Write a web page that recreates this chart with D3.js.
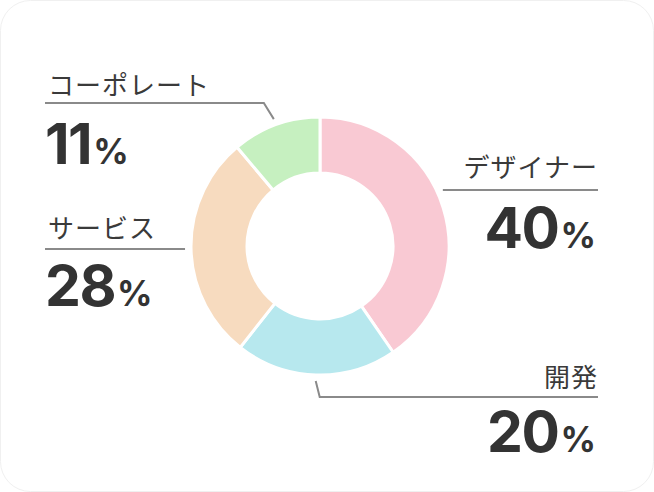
<!DOCTYPE html>
<html>
<head>
<meta charset="utf-8">
<script src="https://cdn.jsdelivr.net/npm/d3@7"></script>
<style>
  html, body { margin: 0; padding: 0; background: #fff; }
  svg { display: block; }
</style>
</head>
<body>
<div id="chart"></div>
<script>
// data
const categories = ["デザイナー", "開発", "サービス", "コーポレート"];
const shares = [40, 20, 28, 11];
const colors = ["#f9c9d3", "#b7e8ee", "#f7dbbf", "#c6f0c0"];

// label layout (one per slice, same order)
const labelLayout = [
  { side: "right", lineY: 190, x1: 598, labelY: 177, valueY: 248 },
  { side: "right", lineY: 397, x1: 598, elbowDx: 4, labelY: 387, valueY: 452 },
  { side: "left", lineY: 249, x1: 45, labelY: 238, valueY: 306 },
  { side: "left", lineY: 103, x1: 45, elbowDx: -10, labelY: 95, valueY: 164 },
];

const width = 654,
  height = 492,
  cx = 320,
  cy = 246,
  outer = 129,
  inner = 73,
  leadR = 135;

const svg = d3
  .select("#chart")
  .append("svg")
  .attr("width", width)
  .attr("height", height);

// card
svg
  .append("rect")
  .attr("x", 0.5)
  .attr("y", 0.5)
  .attr("width", width - 1)
  .attr("height", height - 1)
  .attr("rx", 30)
  .attr("fill", "#fff")
  .attr("stroke", "#f0f0f0");

const rows = categories.map((c, i) => ({
  name: c,
  value: shares[i],
  color: colors[i],
  layout: labelLayout[i],
}));

const pie = d3
  .pie()
  .sort(null)
  .value((d) => d.value);

const arc = d3.arc().innerRadius(inner).outerRadius(outer);
const leadArc = d3.arc().innerRadius(leadR).outerRadius(leadR);

const arcs = pie(rows);

const g = svg
  .append("g")
  .attr("transform", "translate(" + cx + "," + cy + ")");

g.selectAll("path.slice")
  .data(arcs)
  .join("path")
  .attr("class", "slice")
  .attr("d", arc)
  .attr("fill", (d) => d.data.color)
  .attr("stroke", "#fff")
  .attr("stroke-width", 3)
  .attr("stroke-linejoin", "miter");

// leader lines
const line = d3.line();

function leaderPoints(d) {
  const L = d.data.layout;
  const ly = L.lineY - cy;
  let pts;
  if (L.elbowDx !== undefined) {
    const s = leadArc.centroid(d);
    pts = [s, [s[0] + L.elbowDx, ly], [L.x1 - cx, ly]];
  } else {
    const dx = Math.sqrt(leadR * leadR - ly * ly);
    const sx = L.side === "right" ? dx : -dx;
    pts = [[sx, ly], [L.x1 - cx, ly]];
  }
  return pts;
}

g.selectAll("path.leader")
  .data(arcs)
  .join("path")
  .attr("class", "leader")
  .attr("d", (d) => line(leaderPoints(d)))
  .attr("fill", "none")
  .attr("stroke", "#8a8a8a")
  .attr("stroke-width", 2);

// category labels
svg
  .selectAll("text.cat")
  .data(arcs)
  .join("text")
  .attr("class", "cat")
  .attr("x", (d) => (d.data.layout.side === "right" ? 598 : 48))
  .attr("y", (d) => d.data.layout.labelY)
  .attr("text-anchor", (d) => (d.data.layout.side === "right" ? "end" : "start"))
  .attr("font-family", "'Noto Sans CJK JP', 'Noto Sans', sans-serif")
  .attr("font-size", 26)
  .attr("letter-spacing", 1)
  .attr("fill", "#3a3a3a")
  .text((d) => d.data.name);

// percentages
const pct = svg
  .selectAll("text.pct")
  .data(arcs)
  .join("text")
  .attr("class", "pct")
  .attr("x", (d) => (d.data.layout.side === "right" ? 596 : 45))
  .attr("y", (d) => d.data.layout.valueY)
  .attr("text-anchor", (d) => (d.data.layout.side === "right" ? "end" : "start"))
  .attr("font-family", "Inter, 'Liberation Sans', Arial, sans-serif")
  .attr("fill", "#333");

pct
  .append("tspan")
  .attr("font-size", 57)
  .attr("font-weight", 700)
  .attr("letter-spacing", -1.5)
  .text((d) => d.data.value);

pct
  .append("tspan")
  .attr("font-size", 35)
  .attr("font-weight", 700)
  .attr("dx", 2)
  .text("%");
</script>
</body>
</html>
